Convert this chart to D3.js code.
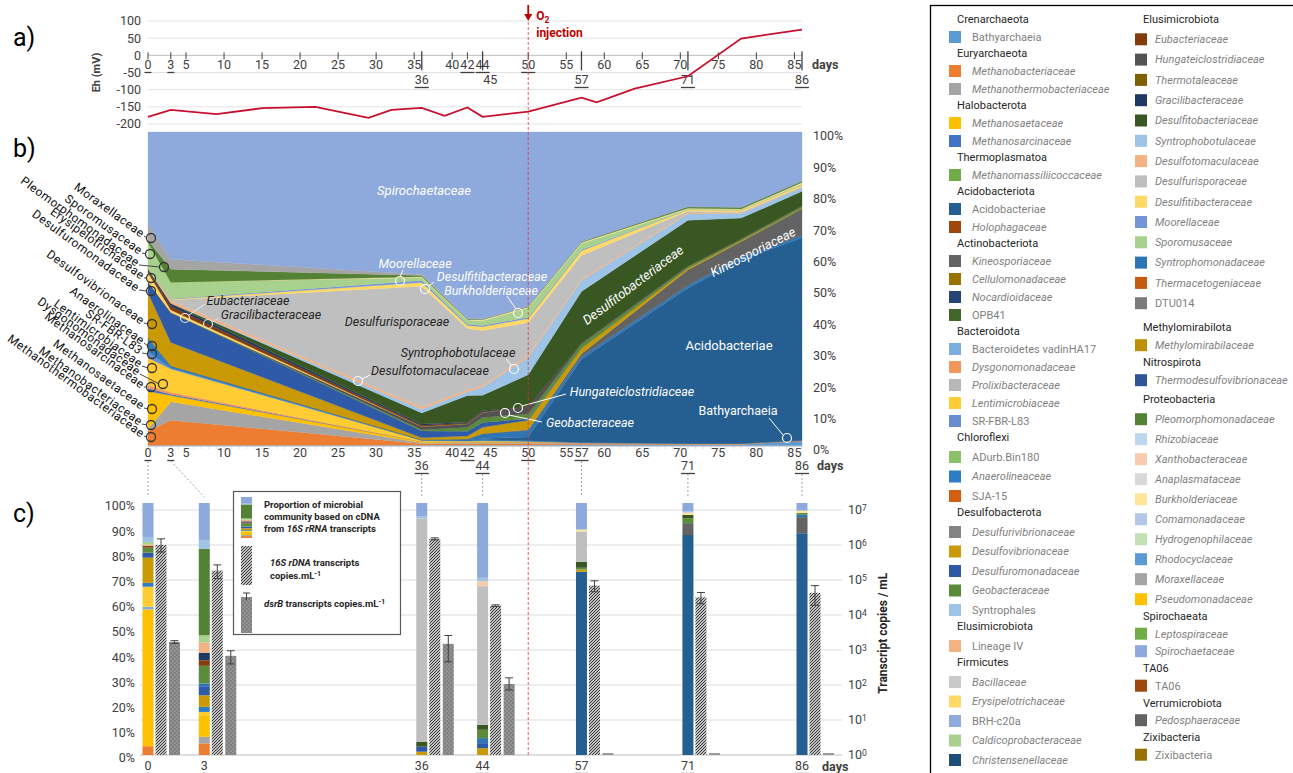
<!DOCTYPE html>
<html>
<head>
<meta charset="utf-8">
<script src="https://cdn.jsdelivr.net/npm/d3@7"></script>
<style>
  body { margin: 0; background: #fff; }
  svg text { font-family: Roboto, "Liberation Sans", Arial, sans-serif; }
</style>
</head>
<body>
<svg id="chart" width="1293" height="773"></svg>
<script>
// ---------- a) redox potential ----------
const ehDays   = [0, 3, 9, 15, 22, 29, 32, 36, 39, 42, 44, 50, 57, 59, 64, 71, 78, 86];
const ehValues = [-179, -159, -171, -154, -150, -182, -159, -153, -176, -152, -179, -164, -123, -137, -97, -61, 49, 75];
const ehTicks  = [100, 50, 0, -50, -100, -150, -200];

// day axis labels
const aTopTicks  = [0, 3, 5, 10, 15, 20, 25, 30, 35, 40, 42, 44, 50, 55, 60, 65, 70, 75, 80, 85];
const aLowTicks  = [36, 45, 57, 71, 86];
const aLongTicks = [36, 44, 57, 71, 86];
const bTopTicks  = [0, 3, 5, 10, 15, 20, 25, 30, 35, 40, 42, 45, 50, 55, 57, 60, 65, 70, 75, 80, 85];
const bLowTicks  = [36, 44, 71, 86];
const underlined = [0, 3, 36, 42, 44, 50, 57, 71, 86];
const o2Day = 50;

// ---------- b) community composition (DNA), % per sampling day ----------
const bDays = [0, 3, 36, 42, 44, 50, 57, 71, 78, 86];
const bBathyarchaeia          = [0.2, 0.2, 0.2, 0.2, 0.2, 0.3, 0.5, 0.5, 0.5, 1.5];
const bMethanobacteriaceae    = [4.6, 8, 0.5, 0.5, 0.5, 0.5, 0.4, 0.3, 0.3, 0.3];
const bMethanothermobacteriaceae = [0.6, 5.9, 0.3, 0.3, 0.3, 0.3, 0.2, 0, 0, 0];
const bMethanosaetaceae       = [12, 2, 0.4, 0.3, 0.3, 0.2, 0, 0, 0, 0];
const bMethanosarcinaceae     = [1, 0.4, 0, 0, 0, 0, 0, 0, 0, 0];
const bDysgonomonadaceae      = [1, 0.6, 0, 0, 0, 0, 0, 0, 0, 0];
const bLentimicrobiaceae      = [8.6, 7.4, 0.4, 0.3, 0.4, 0.2, 0, 0, 0, 0];
const bSRFBRL83               = [2, 0.3, 0, 0, 0, 0, 0, 0, 0, 0];
const bAnaerolineaceae        = [4.4, 0.7, 0.2, 0.3, 0.4, 0.2, 0, 0, 0, 0];
const bAcidobacteriae         = [0, 0, 0, 0, 0.3, 1.2, 26.5, 49.5, 58.5, 64.5];
const bSyntrophomonadaceae    = [0, 0, 0, 0.3, 1.5, 2, 0.8, 0.8, 0.8, 0.8];
const bKineosporiaceae        = [0, 0, 0, 0, 0, 0.3, 1, 5, 5, 8.5];
const bDesulfovibrionaceae    = [14.4, 7.5, 0.6, 1, 2.1, 3, 1.8, 0.6, 0.4, 0.3];
const bDesulfuromonadaceae    = [3.5, 9.5, 2.2, 1.5, 1.5, 0.5, 0, 0, 0, 0];
const bGeobacteraceae         = [0, 0, 0.4, 1.2, 1.6, 1.5, 1.2, 0.5, 0.4, 0.5];
const bHungateiclostridiaceae = [0, 0, 1, 1.2, 1.6, 2.5, 0.5, 0.2, 0.2, 0.2];
const bErysipelotrichaceae    = [2.9, 0.8, 0, 0, 0, 0, 0, 0, 0, 0];
const bEubacteriaceae         = [0.6, 1.2, 0.4, 0.2, 0.2, 0, 0, 0, 0, 0];
const bGracilibacteraceae     = [0.4, 0.8, 0.4, 0.3, 0.3, 0, 0, 0, 0, 0];
const bDesulfitobacteriaceae  = [0.3, 0.2, 3.5, 8.5, 5, 10, 16.3, 14.5, 6.5, 4.5];
const bSyntrophobotulaceae    = [0, 0, 1.2, 1.2, 2.5, 5.5, 3.5, 2, 1.5, 1.2];
const bDesulfotomaculaceae    = [0.3, 0.8, 0.7, 0.6, 0.6, 0.6, 0.5, 0.3, 0.2, 0.1];
const bDesulfurisporaceae     = [0, 0.2, 38.5, 19.5, 17.5, 10.5, 7.5, 0.6, 0.2, 0.2];
const bDesulfitibacteraceae   = [0, 0.2, 1.2, 1, 1.2, 1.3, 1.5, 0.5, 0.6, 0.6];
const bMoorellaceae           = [0, 0.2, 0.6, 0.4, 0.4, 0.4, 0.3, 0, 0, 0];
const bSporomusaceae          = [8, 5.2, 1, 1.3, 1.5, 3, 2, 0.2, 0.2, 0.3];
const bBurkholderiaceae       = [0, 0, 0.2, 0.2, 0.3, 0.3, 0.3, 0.2, 0.2, 0.4];
const bPleomorphomonadaceae   = [0.8, 4.2, 0.4, 0.2, 0.2, 0.2, 0.3, 0.5, 0.5, 0.5];
const bMoraxellaceae          = [5.1, 3.2, 0.3, 0.1, 0.1, 0, 0, 0, 0, 0];
const bSpirochaetaceae        = [29.3, 40.5, 45.4, 59.4, 59.5, 55.5, 34.9, 23.8, 24, 15.6];
const pctTicks = [0, 10, 20, 30, 40, 50, 60, 70, 80, 90, 100];

// ---------- c) cDNA composition and transcript copies ----------
const cDays = [0, 3, 36, 44, 57, 71, 86];
const cMethanobacteriaceae    = [3.5, 4.6, 0, 0, 0, 0, 0];
const cMethanothermobacteriaceae = [0, 2.6, 0, 0, 0, 0, 0];
const cMethanosaetaceae       = [54.3, 8.6, 0, 0, 0, 0, 0];
const cVadinHA17              = [1, 0, 0, 0, 0, 0, 0];
const cLentimicrobiaceae      = [8, 1.3, 0, 0, 0, 0, 0];
const cAnaerolineaceae        = [1.5, 2, 0, 0, 0, 0, 0];
const cAcidobacteriae         = [0, 0, 0, 0, 72.7, 87.3, 88];
const cKineosporiaceae        = [0, 0, 0, 0, 0, 4.7, 6.4];
const cDesulfovibrionaceae    = [10, 4.6, 1.3, 2.7, 0.9, 0, 0];
const cDesulfuromonadaceae    = [2, 3.6, 2, 2, 0, 0, 0];
const cSyntrophomonadaceae    = [0, 1.1, 0, 2, 0, 0, 0.9];
const cGeobacteraceae         = [2, 7, 0, 3.3, 0.7, 2, 0.8];
const cEubacteriaceae         = [0.7, 2.2, 0, 0, 0, 0, 0];
const cGracilibacteraceae     = [0, 3, 0, 0, 0, 0, 0];
const cDesulfitobacteriaceae  = [0, 0, 2, 2, 2.4, 1.3, 0];
const cDesulfotomaculaceae    = [0.5, 4, 0, 0, 0, 0, 0];
const cSporomusaceae          = [1, 2.9, 0, 0, 0, 0, 0];
const cPleomorphomonadaceae   = [0, 34.3, 0, 0, 0, 0, 0];
const cDesulfurisporaceae     = [0, 0, 88.6, 55, 12, 0, 0];
const cXanthobacteraceae      = [0, 0, 0, 2, 0, 0, 0];
const cBurkholderiaceae       = [0, 0, 0, 0, 0.8, 0.9, 0.9];
const cSyntrophales           = [2, 3.3, 0.7, 1.3, 0, 0.5, 0];
const cSpirochaetaceae        = [13.5, 14.9, 5.4, 29.7, 10.5, 3.3, 3];

const c16S      = [1.0e6, 1.85e5, 1.5e6, 1.85e4, 6.9e4, 3.2e4, 4.3e4];
const c16SLow   = [6.3e5, 1.1e5, 1.4e6, 1.75e4, 4.6e4, 2.1e4, 1.9e4];
const c16SHigh  = [1.5e6, 2.7e5, 1.6e6, 1.95e4, 9.5e4, 4.4e4, 6.9e4];
const cDsrB     = [1.7e3, 6.8e2, 1.5e3, 1.07e2, 1, 1, 1];
const cDsrBLow  = [1.55e3, 4.0e2, 4.6e2, 7.2e1, null, null, null];
const cDsrBHigh = [1.85e3, 9.5e2, 2.6e3, 1.6e2, null, null, null];
const logTicks = [1, 10, 100, 1e3, 1e4, 1e5, 1e6, 1e7];

// ---------- legend ----------
const legendLeft = [
  ["Crenarchaeota", ["Bathyarchaeia"]],
  ["Euryarchaeota", ["Methanobacteriaceae", "Methanothermobacteriaceae"]],
  ["Halobacterota", ["Methanosaetaceae", "Methanosarcinaceae"]],
  ["Thermoplasmatoa", ["Methanomassiliicoccaceae"]],
  ["Acidobacteriota", ["Acidobacteriae", "Holophagaceae"]],
  ["Actinobacteriota", ["Kineosporiaceae", "Cellulomonadaceae", "Nocardioidaceae", "OPB41"]],
  ["Bacteroidota", ["Bacteroidetes vadinHA17", "Dysgonomonadaceae", "Prolixibacteraceae", "Lentimicrobiaceae", "SR-FBR-L83"]],
  ["Chloroflexi", ["ADurb.Bin180", "Anaerolineaceae", "SJA-15"]],
  ["Desulfobacterota", ["Desulfurivibrionaceae", "Desulfovibrionaceae", "Desulfuromonadaceae", "Geobacteraceae", "Syntrophales"]],
  ["Elusimicrobiota", ["Lineage IV"]],
  ["Firmicutes", ["Bacillaceae", "Erysipelotrichaceae", "BRH-c20a", "Caldicoprobacteraceae", "Christensenellaceae"]]
];
const legendRight = [
  ["Elusimicrobiota", ["Eubacteriaceae", "Hungateiclostridiaceae", "Thermotaleaceae", "Gracilibacteraceae",
    "Desulfitobacteriaceae", "Syntrophobotulaceae", "Desulfotomaculaceae", "Desulfurisporaceae", "Desulfitibacteraceae",
    "Moorellaceae", "Sporomusaceae", "Syntrophomonadaceae", "Thermacetogeniaceae", "DTU014"]],
  ["Methylomirabilota", ["Methylomirabilaceae"]],
  ["Nitrospirota", ["Thermodesulfovibrionaceae"]],
  ["Proteobacteria", ["Pleomorphomonadaceae", "Rhizobiaceae", "Xanthobacteraceae", "Anaplasmataceae", "Burkholderiaceae",
    "Comamonadaceae", "Hydrogenophilaceae", "Rhodocyclaceae", "Moraxellaceae", "Pseudomonadaceae"]],
  ["Spirochaeata", ["Leptospiraceae", "Spirochaetaceae"]],
  ["TA06", ["TA06"]],
  ["Verrumicrobiota", ["Pedosphaeraceae"]],
  ["Zixibacteria", ["Zixibacteria"]]
];

// colours per family
const colour = {
  "Bathyarchaeia": "#5B9BD5", "Methanobacteriaceae": "#ED7D31", "Methanothermobacteriaceae": "#A5A5A5",
  "Methanosaetaceae": "#FFC000", "Methanosarcinaceae": "#4472C4", "Methanomassiliicoccaceae": "#70AD47",
  "Acidobacteriae": "#255E91", "Holophagaceae": "#9E480E", "Kineosporiaceae": "#636363",
  "Cellulomonadaceae": "#997300", "Nocardioidaceae": "#264478", "OPB41": "#43682B",
  "Bacteroidetes vadinHA17": "#7CAFDD", "Dysgonomonadaceae": "#F1975A", "Prolixibacteraceae": "#B7B7B7",
  "Lentimicrobiaceae": "#FFCD33", "SR-FBR-L83": "#698ED0", "ADurb.Bin180": "#8CC168",
  "Anaerolineaceae": "#2E7CC4", "SJA-15": "#D26012", "Desulfurivibrionaceae": "#848484",
  "Desulfovibrionaceae": "#C99A06", "Desulfuromonadaceae": "#2F5AA8", "Geobacteraceae": "#5A8B3A",
  "Syntrophales": "#9DC3E6", "Lineage IV": "#F4B183", "Bacillaceae": "#C9C9C9",
  "Erysipelotrichaceae": "#FFD966", "BRH-c20a": "#8FAADC", "Caldicoprobacteraceae": "#A9D18E",
  "Christensenellaceae": "#1F4E79", "Eubacteriaceae": "#843C0C", "Hungateiclostridiaceae": "#525252",
  "Thermotaleaceae": "#7F6000", "Gracilibacteraceae": "#203864", "Desulfitobacteriaceae": "#385723",
  "Syntrophobotulaceae": "#9DC3E6", "Desulfotomaculaceae": "#F4B183", "Desulfurisporaceae": "#BFBFBF",
  "Desulfitibacteraceae": "#FFD966", "Moorellaceae": "#7494D8", "Sporomusaceae": "#A9D18E",
  "Syntrophomonadaceae": "#2E75B6", "Thermacetogeniaceae": "#C55A11", "DTU014": "#7B7B7B",
  "Methylomirabilaceae": "#BF9000", "Thermodesulfovibrionaceae": "#2F5597", "Pleomorphomonadaceae": "#548235",
  "Rhizobiaceae": "#BDD7EE", "Xanthobacteraceae": "#F8CBAD", "Anaplasmataceae": "#D9D9D9",
  "Burkholderiaceae": "#FFE699", "Comamonadaceae": "#B4C7E7", "Hydrogenophilaceae": "#C5E0B4",
  "Rhodocyclaceae": "#5B9BD5", "Moraxellaceae": "#A5A5A5", "Pseudomonadaceae": "#FFC000",
  "Leptospiraceae": "#70AD47", "Spirochaetaceae": "#8EA9DB", "TA06": "#9E480E",
  "Pedosphaeraceae": "#636363", "Zixibacteria": "#997300"
};

const bSeries = [
  ["Bathyarchaeia", bBathyarchaeia], ["Methanobacteriaceae", bMethanobacteriaceae],
  ["Methanothermobacteriaceae", bMethanothermobacteriaceae], ["Methanosaetaceae", bMethanosaetaceae],
  ["Methanosarcinaceae", bMethanosarcinaceae], ["Dysgonomonadaceae", bDysgonomonadaceae],
  ["Lentimicrobiaceae", bLentimicrobiaceae], ["SR-FBR-L83", bSRFBRL83], ["Anaerolineaceae", bAnaerolineaceae],
  ["Acidobacteriae", bAcidobacteriae], ["Syntrophomonadaceae", bSyntrophomonadaceae],
  ["Kineosporiaceae", bKineosporiaceae], ["Desulfovibrionaceae", bDesulfovibrionaceae],
  ["Desulfuromonadaceae", bDesulfuromonadaceae], ["Geobacteraceae", bGeobacteraceae],
  ["Hungateiclostridiaceae", bHungateiclostridiaceae], ["Erysipelotrichaceae", bErysipelotrichaceae],
  ["Eubacteriaceae", bEubacteriaceae], ["Gracilibacteraceae", bGracilibacteraceae],
  ["Desulfitobacteriaceae", bDesulfitobacteriaceae], ["Syntrophobotulaceae", bSyntrophobotulaceae],
  ["Desulfotomaculaceae", bDesulfotomaculaceae], ["Desulfurisporaceae", bDesulfurisporaceae],
  ["Desulfitibacteraceae", bDesulfitibacteraceae], ["Moorellaceae", bMoorellaceae],
  ["Sporomusaceae", bSporomusaceae], ["Burkholderiaceae", bBurkholderiaceae],
  ["Pleomorphomonadaceae", bPleomorphomonadaceae], ["Moraxellaceae", bMoraxellaceae],
  ["Spirochaetaceae", bSpirochaetaceae]
];
const cSeries = [
  ["Methanobacteriaceae", cMethanobacteriaceae], ["Methanothermobacteriaceae", cMethanothermobacteriaceae],
  ["Methanosaetaceae", cMethanosaetaceae], ["Bacteroidetes vadinHA17", cVadinHA17],
  ["Lentimicrobiaceae", cLentimicrobiaceae], ["Anaerolineaceae", cAnaerolineaceae],
  ["Acidobacteriae", cAcidobacteriae], ["Kineosporiaceae", cKineosporiaceae],
  ["Desulfovibrionaceae", cDesulfovibrionaceae], ["Desulfuromonadaceae", cDesulfuromonadaceae],
  ["Syntrophomonadaceae", cSyntrophomonadaceae], ["Geobacteraceae", cGeobacteraceae],
  ["Eubacteriaceae", cEubacteriaceae], ["Gracilibacteraceae", cGracilibacteraceae],
  ["Desulfitobacteriaceae", cDesulfitobacteriaceae], ["Desulfotomaculaceae", cDesulfotomaculaceae],
  ["Sporomusaceae", cSporomusaceae], ["Pleomorphomonadaceae", cPleomorphomonadaceae],
  ["Desulfurisporaceae", cDesulfurisporaceae], ["Xanthobacteraceae", cXanthobacteraceae],
  ["Burkholderiaceae", cBurkholderiaceae], ["Syntrophales", cSyntrophales],
  ["Spirochaetaceae", cSpirochaetaceae]
];

// ================= drawing =================
const svg = d3.select("#chart");
const txt = "#404040";
const x = d3.scaleLinear().domain([0, 86]).range([148, 802]);

// patterns for transcript bars
const defs = svg.append("defs");
const hatch = defs.append("pattern").attr("id", "hatch").attr("patternUnits", "userSpaceOnUse")
  .attr("width", 3).attr("height", 3);
hatch.append("rect").attr("width", 3).attr("height", 3).attr("fill", "#fff");
hatch.append("path").attr("d", "M-1,1 l2,-2 M0,3 l3,-3 M2,4 l2,-2").attr("stroke", "#2b2b2b").attr("stroke-width", 1.1);
const dots = defs.append("pattern").attr("id", "dots").attr("patternUnits", "userSpaceOnUse")
  .attr("width", 4).attr("height", 4);
dots.append("rect").attr("width", 4).attr("height", 4).attr("fill", "#7f7f7f");
dots.append("circle").attr("cx", 1).attr("cy", 1).attr("r", 0.6).attr("fill", "#d9d9d9");
dots.append("circle").attr("cx", 3).attr("cy", 3).attr("r", 0.6).attr("fill", "#d9d9d9");

// panel letters
[["a)", 46], ["b)", 157], ["c)", 522]].forEach(([t, y]) =>
  svg.append("text").attr("x", 13).attr("y", y).attr("font-size", 25).attr("fill", "#000").text(t));

function dayLabels(ticks, y) {
  const g = svg.append("g");
  g.selectAll("text").data(ticks).join("text")
    .attr("x", d => x(d)).attr("y", y).attr("dy", "0.35em").attr("text-anchor", "middle")
    .attr("font-size", 12.5).attr("fill", txt).text(d => d)
    .each(function (d) {
      if (!underlined.includes(d)) return;
      const w = this.getComputedTextLength();
      g.append("line").attr("x1", x(d) - w / 2).attr("x2", x(d) + w / 2)
        .attr("y1", y + 7.5).attr("y2", y + 7.5).attr("stroke", txt).attr("stroke-width", 1.3);
    });
}

// ---------- panel a ----------
const yEh = d3.scaleLinear().domain([-200, 100]).range([124, 21]);
svg.append("g").selectAll("line").data(ehTicks).join("line")
  .attr("x1", x(0)).attr("x2", x(86)).attr("y1", d => yEh(d)).attr("y2", d => yEh(d))
  .attr("stroke", d => d === 0 ? "#bfbfbf" : "#e3e3e3");
svg.append("g").selectAll("text").data(ehTicks).join("text")
  .attr("x", 141).attr("y", d => yEh(d)).attr("dy", "0.35em").attr("text-anchor", "end")
  .attr("font-size", 12.5).attr("fill", txt).text(d => d);
svg.append("text").attr("transform", `translate(100,${yEh(-50)}) rotate(-90)`)
  .attr("text-anchor", "middle").attr("font-size", 11).attr("font-weight", "bold").attr("fill", txt).text("Eh (mV)");
svg.append("g").selectAll("line").data(aTopTicks.filter(d => !aLongTicks.includes(d))).join("line")
  .attr("x1", d => x(d)).attr("x2", d => x(d)).attr("y1", yEh(0) - 3).attr("y2", yEh(0) + 4)
  .attr("stroke", txt);
svg.append("g").selectAll("line").data(aLongTicks).join("line")
  .attr("x1", d => x(d)).attr("x2", d => x(d)).attr("y1", yEh(0) - 4).attr("y2", yEh(0) + 15)
  .attr("stroke", txt).attr("stroke-width", 1.3);
dayLabels(aTopTicks, 65);
dayLabels(aLowTicks, 80);
svg.append("text").attr("x", 812).attr("y", 65).attr("dy", "0.35em").attr("font-size", 12.5)
  .attr("font-weight", "bold").attr("fill", txt).text("days");
svg.append("path").datum(ehDays.map((d, i) => [d, ehValues[i]]))
  .attr("d", d3.line().x(d => x(d[0])).y(d => yEh(d[1])))
  .attr("fill", "none").attr("stroke", "#C8102E").attr("stroke-width", 1.8);

// ---------- panel b ----------
const yB = d3.scaleLinear().domain([0, 1]).range([446, 132]);
const bKeys = bSeries.map(s => s[0]);
const bTable = bDays.map((d, i) => {
  const row = { day: d };
  bSeries.forEach(([k, v]) => row[k] = v[i]);
  return row;
});
const bStack = d3.stack().keys(bKeys).offset(d3.stackOffsetExpand)(bTable);
const area = d3.area().x(d => x(d.data.day)).y0(d => yB(d[0])).y1(d => yB(d[1]));
svg.append("g").selectAll("path").data(bStack).join("path")
  .attr("d", area).attr("fill", d => colour[d.key])
  .attr("stroke", d => colour[d.key]).attr("stroke-width", 0.3);

svg.append("g").selectAll("text").data(pctTicks).join("text")
  .attr("x", 813).attr("y", d => yB(d / 100) + 4).attr("dy", "0.35em")
  .attr("font-size", 12.5).attr("fill", txt).text(d => d + "%");
svg.append("line").attr("x1", x(0)).attr("x2", x(86)).attr("y1", yB(0)).attr("y2", yB(0)).attr("stroke", "#bfbfbf");
svg.append("g").selectAll("line").data(d3.range(0, 87)).join("line")
  .attr("x1", d => x(d)).attr("x2", d => x(d)).attr("y1", yB(0)).attr("y2", yB(0) + 3)
  .attr("stroke", "#c8c8c8").attr("stroke-width", 0.6);
dayLabels(bTopTicks, 453);
dayLabels(bLowTicks, 466);
svg.append("text").attr("x", 817).attr("y", 466).attr("dy", "0.35em").attr("font-size", 12.5)
  .attr("font-weight", "bold").attr("fill", txt).text("days");

// in-area annotations
const bNotes = [
  { t: "Spirochaetaceae", x: 424, y: 190, c: "#fff", it: 1, fs: 13 },
  { t: "Moorellaceae", x: 415, y: 264, c: "#fff", it: 1, p: [400, 281], l: [403, 270, 400, 277] },
  { t: "Desulfitibacteraceae", x: 492, y: 277, c: "#fff", it: 1, p: [425, 289], l: [434, 282, 429, 286] },
  { t: "Burkholderiaceae", x: 491, y: 291, c: "#fff", it: 1, p: [518, 313], l: [507, 296, 516, 309] },
  { t: "Eubacteriaceae", x: 248, y: 301, c: "#262626", it: 1, p: [185, 318], l: [189, 315, 205, 304], pc: "#eee" },
  { t: "Gracilibacteraceae", x: 271, y: 315, c: "#262626", it: 1, p: [208, 324], l: [212, 322, 219, 318], pc: "#ddd" },
  { t: "Desulfurisporaceae", x: 397, y: 322, c: "#262626", it: 1 },
  { t: "Syntrophobotulaceae", x: 458, y: 353, c: "#262626", it: 1, p: [514, 369], l: [506, 359, 511, 365], pc: "#fff" },
  { t: "Desulfotomaculaceae", x: 430, y: 371, c: "#262626", it: 1, p: [358, 381], l: [362, 379, 370, 375], pc: "#fff" },
  { t: "Hungateiclostridiaceae", x: 632, y: 392, c: "#fff", it: 1, p: [518, 408], l: [522, 406, 566, 394] },
  { t: "Geobacteraceae", x: 590, y: 423, c: "#fff", it: 1, p: [505, 413], l: [509, 415, 542, 422] },
  { t: "Acidobacteriae", x: 729, y: 345, c: "#fff", it: 0, fs: 13 },
  { t: "Bathyarchaeia", x: 738, y: 411, c: "#fff", it: 0, p: [787, 438], l: [769, 418, 783, 435] },
  { t: "Desulfitobacteriaceae", x: 633, y: 285, c: "#fff", it: 1, r: -37, fs: 13 },
  { t: "Kineosporiaceae", x: 753, y: 252, c: "#fff", it: 1, r: -27, fs: 13 }
];
const gN = svg.append("g");
bNotes.forEach(n => {
  gN.append("text").attr("transform", `translate(${n.x},${n.y}) rotate(${n.r || 0})`)
    .attr("text-anchor", "middle").attr("dy", "0.35em").attr("font-size", n.fs || 12.5)
    .attr("font-style", n.it ? "italic" : "normal").attr("fill", n.c).text(n.t);
  const pc = n.pc || n.c;
  if (n.l) gN.append("line").attr("x1", n.l[0]).attr("y1", n.l[1]).attr("x2", n.l[2]).attr("y2", n.l[3])
    .attr("stroke", pc).attr("stroke-width", 1);
  if (n.p) gN.append("circle").attr("cx", n.p[0]).attr("cy", n.p[1]).attr("r", 4.5)
    .attr("fill", "none").attr("stroke", pc).attr("stroke-width", 1.2);
});

// rotated labels left of panel b: [text, end x, end y, circle x, circle y]
const leftNotes = [
  ["Moraxellaceae", 143, 235, 151, 238], ["Sporomusaceae", 141, 252, 150, 254],
  ["Pleomorphomonadaceae", 138, 264, 164, 267], ["Erysipelotrichaceae", 143, 277, 151, 278],
  ["Desulfuromonadaceae", 138, 289, 151, 291], ["Desulfovibrionaceae", 143, 322, 152, 324],
  ["Anaerolinaceae", 143, 342, 152, 346], ["SR-FBR-L83", 141, 352, 152, 354],
  ["Lentimicrobiaceae", 141, 365, 152, 368], ["Dysgonomonadaceae", 139, 373, 163, 384],
  ["Methanosarcinaceae", 143, 386, 151, 387], ["Methanosaetaceae", 143, 407, 152, 409],
  ["Methanobacteriaceae", 141, 423, 151, 425], ["Methanothermobacteriaceae", 143, 435, 151, 437]
];
const gL = svg.append("g");
leftNotes.forEach(([t, ex, ey, cx, cy]) => {
  gL.append("text").attr("transform", `translate(${ex},${ey}) rotate(36)`)
    .attr("text-anchor", "end").attr("dy", "0.3em").attr("font-size", 12).attr("letter-spacing", 0.45)
    .attr("fill", "#111").text(t);
  gL.append("line").attr("x1", ex + 1).attr("y1", ey + 1).attr("x2", cx - 4).attr("y2", cy)
    .attr("stroke", "#333").attr("stroke-width", 0.9);
  gL.append("circle").attr("cx", cx).attr("cy", cy).attr("r", 4.5)
    .attr("fill", "none").attr("stroke", "#333").attr("stroke-width", 1.3);
});

// ---------- panel c ----------
const xC = d => x(d === 3 ? 7.4 : d);   // day-3 column is shifted right in the figure
const yPct = d3.scaleLinear().domain([0, 100]).range([755, 503]);
const yLog = d3.scaleLog().domain([1, 1e7]).range([755, 510]);

svg.append("g").selectAll("line").data(logTicks).join("line")
  .attr("x1", 140).attr("x2", 842).attr("y1", d => yLog(d)).attr("y2", d => yLog(d))
  .attr("stroke", d => d === 1 ? "#bfbfbf" : "#dcdcdc");

// connectors from sampling-day labels to the bars
svg.append("g").selectAll("line").data(cDays).join("line")
  .attr("x1", d => x(d)).attr("y1", d => (d <= 3 || d === 57) ? 461 : 474)
  .attr("x2", d => xC(d)).attr("y2", 497)
  .attr("stroke", "#999").attr("stroke-width", 0.9).attr("stroke-dasharray", "2,2");

const cKeys = cSeries.map(s => s[0]);
const cTable = cDays.map((d, i) => {
  const row = { day: d };
  cSeries.forEach(([k, v]) => row[k] = v[i]);
  return row;
});
const cStack = d3.stack().keys(cKeys)(cTable);
svg.append("g").selectAll("g").data(cStack).join("g").attr("fill", d => colour[d.key])
  .selectAll("rect").data(d => d).join("rect")
  .attr("x", d => xC(d.data.day) - 5.5).attr("width", 11)
  .attr("y", d => yPct(d[1])).attr("height", d => yPct(d[0]) - yPct(d[1]));

// transcript bars
function transcriptBars(vals, lo, hi, off, fill) {
  const g = svg.append("g");
  cDays.forEach((d, i) => {
    const x0 = xC(d) + off, v = vals[i];
    if (v > 1) {
      g.append("rect").attr("x", x0).attr("width", 11).attr("y", yLog(v)).attr("height", yLog(1) - yLog(v))
        .attr("fill", fill);
    } else {
      g.append("line").attr("x1", x0).attr("x2", x0 + 11).attr("y1", yLog(1) - 1).attr("y2", yLog(1) - 1)
        .attr("stroke", "#999").attr("stroke-width", 2);
    }
    if (lo[i] != null) {
      const cx = x0 + 5.5;
      g.append("line").attr("x1", cx).attr("x2", cx).attr("y1", yLog(hi[i])).attr("y2", yLog(lo[i]))
        .attr("stroke", "#404040").attr("stroke-width", 1);
      [hi[i], lo[i]].forEach(e => g.append("line").attr("x1", cx - 4).attr("x2", cx + 4)
        .attr("y1", yLog(e)).attr("y2", yLog(e)).attr("stroke", "#404040").attr("stroke-width", 1));
    }
  });
}
transcriptBars(c16S, c16SLow, c16SHigh, 7.5, "url(#hatch)");
transcriptBars(cDsrB, cDsrBLow, cDsrBHigh, 21, "url(#dots)");

// axes of panel c
svg.append("g").selectAll("text").data(pctTicks).join("text")
  .attr("x", 135).attr("y", d => yPct(d) + 3).attr("dy", "0.35em").attr("text-anchor", "end")
  .attr("font-size", 12.5).attr("fill", txt).text(d => d + "%");
const rt = svg.append("g").selectAll("text").data(logTicks).join("text")
  .attr("x", 848).attr("y", d => yLog(d)).attr("dy", "0.35em").attr("font-size", 12.5).attr("fill", txt);
rt.append("tspan").text("10");
rt.append("tspan").attr("dy", "-0.45em").attr("font-size", 8.5).text(d => Math.round(Math.log10(d)));
svg.append("text").attr("transform", `translate(887,${yLog(3e3)}) rotate(-90)`).attr("text-anchor", "middle")
  .attr("font-size", 12).attr("font-weight", "bold").attr("fill", "#262626").text("Transcript copies / mL");
{
  const g = svg.append("g");
  cDays.forEach(d => {
    const t = g.append("text").attr("x", xC(d)).attr("y", 766).attr("dy", "0.35em").attr("text-anchor", "middle")
      .attr("font-size", 12.5).attr("fill", txt).text(d);
    const w = t.node().getComputedTextLength();
    g.append("line").attr("x1", xC(d) - w / 2).attr("x2", xC(d) + w / 2).attr("y1", 773.5).attr("y2", 773.5)
      .attr("stroke", txt).attr("stroke-width", 1.3);
  });
  g.append("text").attr("x", 822).attr("y", 767).attr("dy", "0.35em").attr("font-size", 12.5)
    .attr("font-weight", "bold").attr("fill", txt).text("days");
}

// legend box of panel c
{
  const g = svg.append("g");
  g.append("rect").attr("x", 233.5).attr("y", 491.5).attr("width", 167).attr("height", 143)
    .attr("fill", "#fff").attr("stroke", "#595959").attr("stroke-width", 1.2);
  const ySw = d3.scaleLinear().domain([0, 100]).range([538, 497]);
  const day3 = cStack.map(s => [s.key, s[1]]);
  day3.forEach(([k, d]) => {
    if (d[1] - d[0] <= 0) return;
    g.append("rect").attr("x", 241).attr("width", 11).attr("y", ySw(d[1])).attr("height", ySw(d[0]) - ySw(d[1]))
      .attr("fill", colour[k]);
  });
  const bold = (y, parts, x0) => {
    const t = g.append("text").attr("x", x0).attr("y", y).attr("font-size", 9.5).attr("font-weight", "bold").attr("fill", "#262626");
    parts.forEach(([s, it, sup]) => {
      const sp = t.append("tspan").text(s);
      if (it) sp.attr("font-style", "italic");
      if (sup) sp.attr("dy", "-0.5em").attr("font-size", 7);
    });
  };
  bold(508, [["Proportion of microbial"]], 264);
  bold(520, [["community based on cDNA"]], 264);
  bold(532, [["from "], ["16S rRNA", 1], [" transcripts"]], 264);
  g.append("rect").attr("x", 241).attr("y", 546).attr("width", 11).attr("height", 39).attr("fill", "url(#hatch)");
  bold(566, [["16S rDNA", 1], [" transcripts"]], 270);
  bold(579, [["copies.mL"], ["-1", 0, 1]], 270);
  g.append("rect").attr("x", 241).attr("y", 597).attr("width", 11).attr("height", 36).attr("fill", "url(#dots)");
  g.append("line").attr("x1", 246.5).attr("x2", 246.5).attr("y1", 593).attr("y2", 600).attr("stroke", "#404040");
  g.append("line").attr("x1", 243).attr("x2", 250).attr("y1", 593).attr("y2", 593).attr("stroke", "#404040");
  bold(607, [["dsrB", 1], [" transcripts copies.mL"], ["-1", 0, 1]], 264);
}

// O2 injection marker
{
  const xo = x(o2Day);
  svg.append("line").attr("x1", xo).attr("x2", xo).attr("y1", 22).attr("y2", 757)
    .attr("stroke", "#E03030").attr("stroke-width", 0.9).attr("stroke-dasharray", "3,2").attr("opacity", 0.85);
  svg.append("line").attr("x1", xo).attr("x2", xo).attr("y1", 5).attr("y2", 16)
    .attr("stroke", "#C00000").attr("stroke-width", 1.8);
  svg.append("path").attr("d", `M${xo - 4},${14} L${xo + 4},${14} L${xo},${21} Z`).attr("fill", "#C00000");
  const t = svg.append("text").attr("x", xo + 8).attr("y", 20).attr("font-size", 12).attr("font-weight", "bold").attr("fill", "#C00000");
  t.append("tspan").text("O");
  t.append("tspan").attr("dy", "0.35em").attr("font-size", 8.5).text("2");
  svg.append("text").attr("x", xo + 8).attr("y", 37).attr("font-size", 12).attr("font-weight", "bold")
    .attr("fill", "#C00000").text("injection");
}

// ---------- family legend ----------
svg.append("rect").attr("x", 930.5).attr("y", 5.5).attr("width", 400).attr("height", 800)
  .attr("fill", "none").attr("stroke", "#000").attr("stroke-width", 1.3);
// stepOf(group index) -> [item step, header step]
function legendColumn(groups, hx, sx, tx, stepOf) {
  const g = svg.append("g");
  let y = 19;
  groups.forEach(([phylum, fams], gi) => {
    const [itemStep, headStep] = stepOf(gi);
    if (gi > 0) y += headStep;
    g.append("text").attr("x", hx).attr("y", y).attr("dy", "0.35em").attr("font-size", 11)
      .attr("fill", "#262626").text(phylum);
    fams.forEach(f => {
      y += itemStep;
      g.append("rect").attr("x", sx).attr("y", y - 6).attr("width", 12).attr("height", 12).attr("fill", colour[f]);
      g.append("text").attr("x", tx).attr("y", y).attr("dy", "0.35em").attr("font-size", 11)
        .attr("font-style", /aceae$/.test(f) ? "italic" : "normal").attr("fill", "#7f7f7f").text(f);
    });
  });
}
legendColumn(legendLeft, 957, 949, 972, gi => gi < 7 ? [18, 16] : [19.5, 16.5]);
legendColumn(legendRight, 1143, 1135, 1155, gi => [[20.3, 0], [18, 24], [18, 17], [20, 19]][gi] || [17.5, 17]);
</script>
</body>
</html>
